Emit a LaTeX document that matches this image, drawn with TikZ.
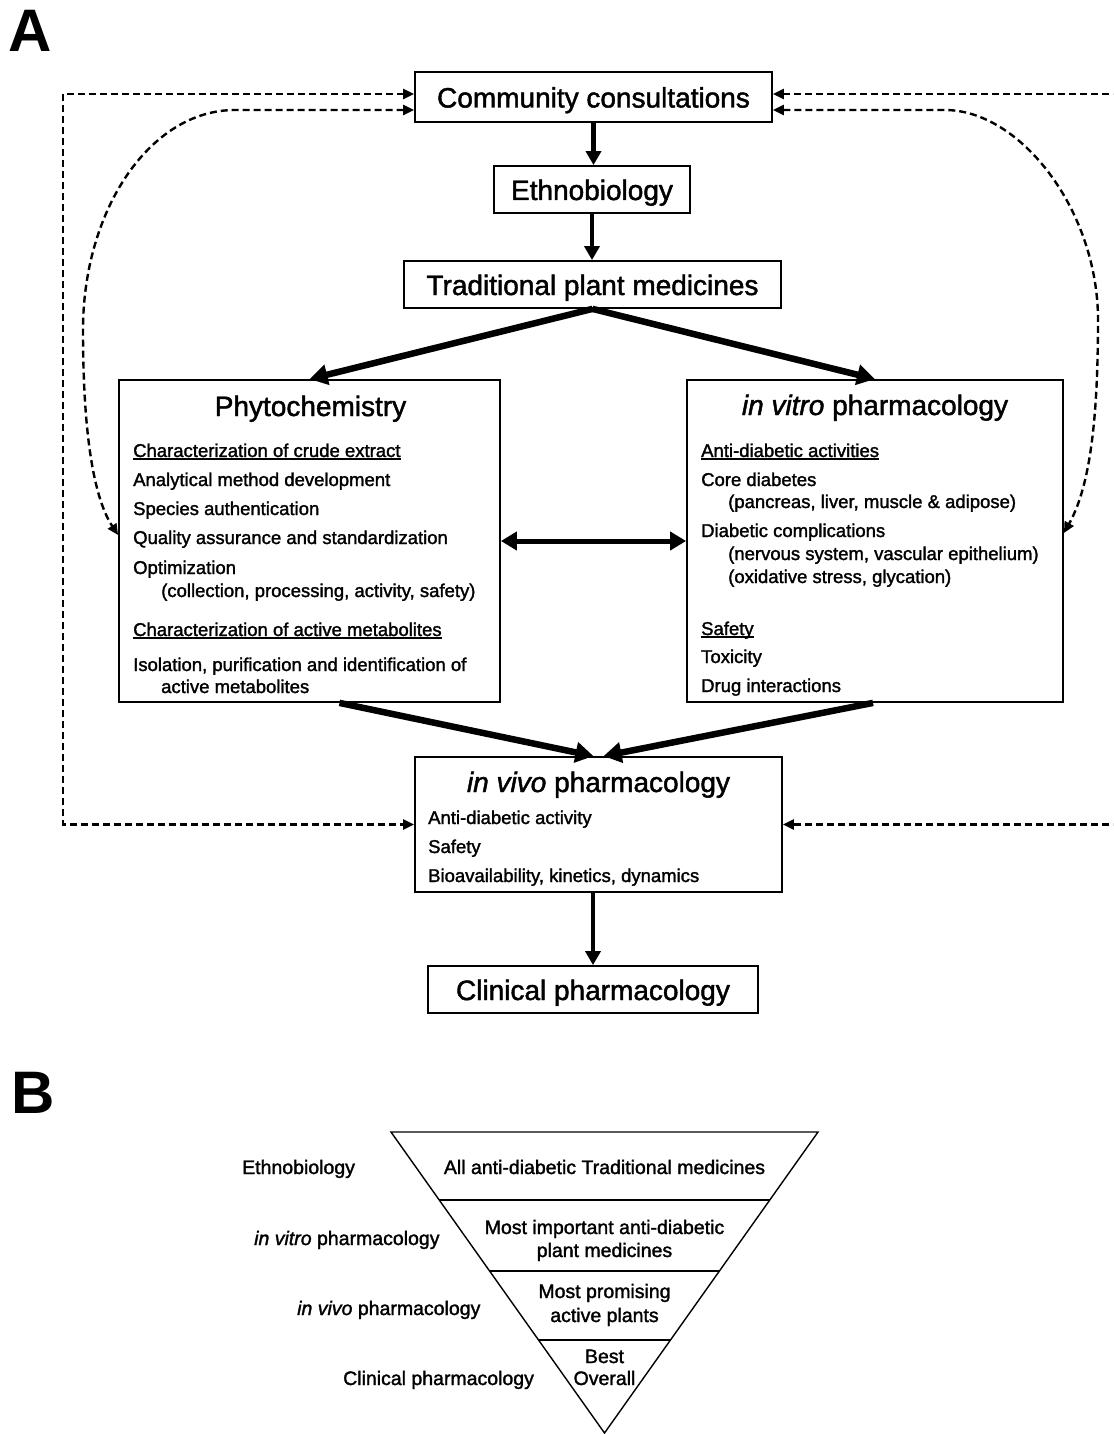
\documentclass[tikz,border=0pt]{standalone}
\usepackage{fontspec}
\setmainfont[RawFeature={embolden=1.6}]{Liberation Sans}
\newfontfamily\labfont{Liberation Sans}
\usetikzlibrary{arrows.meta,calc}
\newcommand\myul[1]{\setbox0\hbox{#1}\rlap{\rule[-2.8pt]{\wd0}{1.5pt}}\box0}
\begin{document}
\begin{tikzpicture}[x=1pt,y=-1pt,
  box/.style={draw, line width=1.8pt, inner sep=0pt},
  boxtitle/.style={font=\fontsize{28}{32}\selectfont, text height=21pt, text depth=0pt},
  ttl/.style={anchor=base, inner sep=0pt, font=\fontsize{28}{32}\selectfont},
  itm/.style={anchor=base west, inner sep=0pt, font=\fontsize{18.5}{22}\selectfont},
  bt/.style={anchor=base, inner sep=0pt, font=\fontsize{19.5}{23.5}\selectfont},
  bl/.style={anchor=base west, inner sep=0pt, font=\fontsize{19.5}{23.5}\selectfont},
  lbl/.style={anchor=base west, inner sep=0pt, font=\fontsize{60}{60}\labfont\bfseries},
  vert/.style={line width=4.5pt, -{Triangle[length=14pt,width=15pt]}},
  diag/.style={line width=6.5pt, -{Triangle[length=18pt,width=20pt]}},
  dbl/.style={line width=5pt, {Triangle[length=16pt,width=18pt]}-{Triangle[length=16pt,width=18pt]}},
  dsh/.style={line width=2.4pt, dash pattern=on 7pt off 4pt, {Triangle[length=11pt,width=10pt]}-{Triangle[length=11pt,width=10pt]}},
  tri/.style={line width=1.4pt, line join=miter}
]
\useasboundingbox (0,0) rectangle (1113,1434);
\clip (0,0) rectangle (1113,1434);

% panel labels
\node[lbl] (labA) at (8,52) {A};
\node[lbl] (labB) at (11,1113) {B};

% boxes
\node[box, boxtitle, minimum width=357pt, minimum height=50pt] (comm) at (593.5,97) {Community consultations};
\node[box, boxtitle, minimum width=196pt, minimum height=47pt] (ethno) at (592,189.5) {Ethnobiology};
\node[box, boxtitle, minimum width=377pt, minimum height=47pt] (trad) at (592.5,284.5) {Traditional plant medicines};
\node[box, minimum width=381pt, minimum height=322pt] (phyto) at (309.5,541) {};
\node[box, minimum width=376pt, minimum height=322pt] (vitro) at (875,541) {};
\node[box, minimum width=367pt, minimum height=135pt] (vivo) at (598.5,824.5) {};
\node[box, boxtitle, minimum width=330pt, minimum height=47pt] (clin) at (593,989.5) {Clinical pharmacology};

% phytochemistry
\node[ttl] (phytoT) at (310.5,416) {Phytochemistry};
\node[itm] (p1) at (133,457) {\myul{Characterization of crude extract}};
\node[itm] (p2) at (133,486) {Analytical method development};
\node[itm] (p3) at (133,515) {Species authentication};
\node[itm] (p4) at (133,544) {Quality assurance and standardization};
\node[itm] (p5) at (133,574) {Optimization};
\node[itm] (p6) at (161,597) {(collection, processing, activity, safety)};
\node[itm] (p7) at (133,636) {\myul{Characterization of active metabolites}};
\node[itm] (p8) at (133,671) {Isolation, purification and identification of};
\node[itm] (p9) at (161,693) {active metabolites};

% in vitro
\node[ttl] (vitroT) at (875,415) {\textit{in vitro} pharmacology};
\node[itm] (v1) at (701,457) {\myul{Anti-diabetic activities}};
\node[itm] (v2) at (701,486) {Core diabetes};
\node[itm] (v3) at (728,508) {(pancreas, liver, muscle \& adipose)};
\node[itm] (v4) at (701,537) {Diabetic complications};
\node[itm] (v5) at (728,560) {(nervous system, vascular epithelium)};
\node[itm] (v6) at (728,583) {(oxidative stress, glycation)};
\node[itm] (v7) at (701,635) {\myul{Safety}};
\node[itm] (v8) at (701,663) {Toxicity};
\node[itm] (v9) at (701,692) {Drug interactions};

% in vivo
\node[ttl] (vivoT) at (598.5,792) {\textit{in vivo} pharmacology};
\node[itm] (w1) at (428,824) {Anti-diabetic activity};
\node[itm] (w2) at (428,853) {Safety};
\node[itm] (w3) at (428,882) {Bioavailability, kinetics, dynamics};

% solid arrows
\draw[vert] (comm.south) -- (comm.south |- ethno.north);
\draw[vert] (ethno.south) -- (ethno.south |- trad.north);
\draw[diag] (trad.south) -- (phyto.north);
\draw[diag] (trad.south) -- (vitro.north);
\draw[diag] ($(phyto.south)+(30,0)$) -- ($(vivo.north)+(-5,0)$);
\draw[diag] ($(vitro.south)+(-2,0)$) -- ($(vivo.north)+(5,0)$);
\draw[dbl] (phyto.east) -- (vitro.west);
\draw[vert] (clin.north |- vivo.south) -- (clin.north);

% dashed feedback connectors
\coordinate (LT) at (63,94);
\coordinate (LB) at (63,824.5);
\coordinate (RT) at (1120,94);
\coordinate (RB) at (1120,824.5);
\draw[dsh] ($(comm.west)+(0,-3)$) -- (LT) -- (LB) -- (vivo.west);
\draw[dsh] ($(comm.east)+(0,-3)$) -- (RT) -- (RB) -- (vivo.east);
\draw[dsh] ($(comm.west)+(0,13)$) -- (235,110) .. controls (150,110) and (83,210) .. (83,330)
  .. controls (83,440) and (95,500) .. ($(phyto.west)+(0,-6)$);
\draw[dsh] ($(comm.east)+(0,13)$) -- (945,110) .. controls (1020,110) and (1098,210) .. (1098,320)
  .. controls (1098,430) and (1088,490) .. ($(vitro.east)+(0,-8)$);

% panel B
\coordinate (TL) at (391,1132);
\coordinate (TR) at (818,1132);
\coordinate (AP) at (604.5,1433);
\draw[tri] (TL) -- (TR) -- (AP) -- cycle;
\draw[tri] ($(TL)!0.2259!(AP)$) -- ($(TR)!0.2259!(AP)$);
\draw[tri] ($(TL)!0.4618!(AP)$) -- ($(TR)!0.4618!(AP)$);
\draw[tri] ($(TL)!0.6910!(AP)$) -- ($(TR)!0.6910!(AP)$);

\node[bt] (b1) at (604.5,1174) {All anti-diabetic Traditional medicines};
\node[bt] (b2a) at (604.5,1234) {Most important anti-diabetic};
\node[bt] (b2b) at (604.5,1257) {plant medicines};
\node[bt] (b3a) at (604.5,1298) {Most promising};
\node[bt] (b3b) at (604.5,1322) {active plants};
\node[bt] (b4a) at (604.5,1363) {Best};
\node[bt] (b4b) at (604.5,1385) {Overall};

\node[bl] (l1) at (242,1174) {Ethnobiology};
\node[bl] (l2) at (254,1245) {\textit{in vitro} pharmacology};
\node[bl] (l3) at (297,1315) {\textit{in vivo} pharmacology};
\node[bl] (l4) at (343,1385) {Clinical pharmacology};
\end{tikzpicture}
\end{document}
